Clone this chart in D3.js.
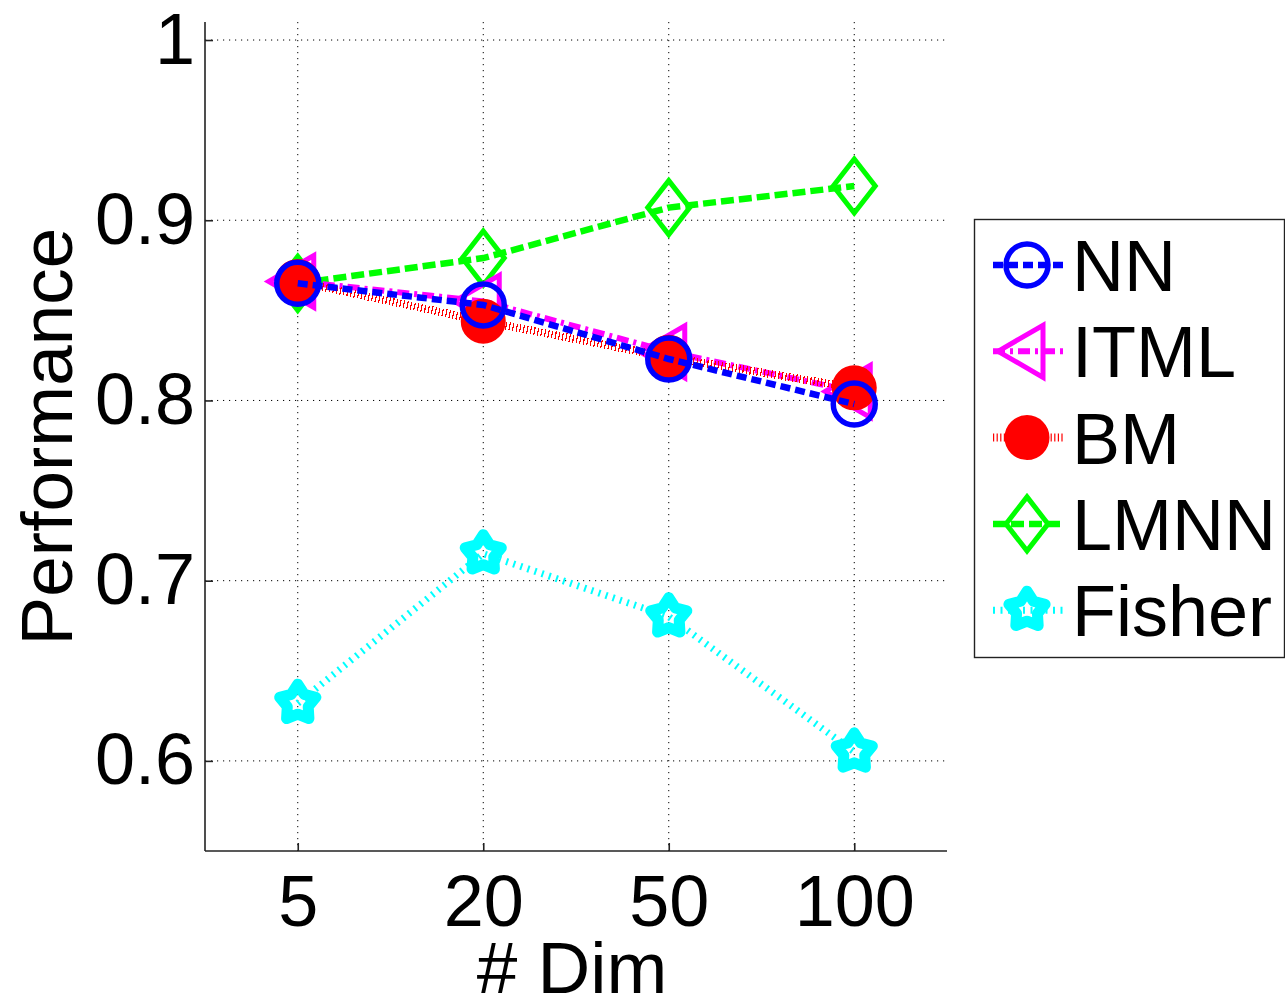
<!DOCTYPE html>
<html>
<head>
<meta charset="utf-8">
<script src="https://cdn.jsdelivr.net/npm/d3@7"></script>
<style>
  html, body { margin: 0; padding: 0; background: #fff; }
  svg { display: block; }
  text { font-family: "Liberation Sans", Arial, Helvetica, sans-serif; fill: #000; }
</style>
</head>
<body>
<script>
// Dimensionality settings on the x axis
const categories = ["5", "20", "50", "100"];

// Performance per method
const nnValues     = [0.865, 0.853, 0.823, 0.798];
const itmlValues   = [0.866, 0.855, 0.827, 0.805];
const bmValues     = [0.866, 0.844, 0.824, 0.807];
const lmnnValues   = [0.865, 0.879, 0.907, 0.919];
const fisherValues = [0.632, 0.715, 0.680, 0.605];

const seriesNames = ["NN", "ITML", "BM", "LMNN", "Fisher"];
const yTickValues = [0.6, 0.7, 0.8, 0.9, 1];
const xLabel = "# Dim";
const yLabel = "Performance";

const series = [
  { name: "NN",     values: nnValues },
  { name: "ITML",   values: itmlValues },
  { name: "BM",     values: bmValues },
  { name: "LMNN",   values: lmnnValues },
  { name: "Fisher", values: fisherValues }
];

// Line and marker appearance per method
const styles = {
  NN:     { color: "#0000ff", dash: "10,5",      width: 6.5, marker: "circle" },
  ITML:   { color: "#ff00ff", dash: "12,5,3,5",  width: 6,   marker: "triangleLeft" },
  BM:     { color: "#ff0000", dash: "1.2,2.4",   width: 8,   marker: "disc" },
  LMNN:   { color: "#00ff00", dash: "13,5",      width: 6.5, marker: "diamond" },
  Fisher: { color: "#00ffff", dash: "2,5.5",     width: 7,   marker: "star" }
};

const W = 1285, H = 998;
const plot = { left: 205, right: 947, top: 22, bottom: 851 };
const TICK_FONT = 72;
const LABEL_FONT = 73;

const svg = d3.select("body").append("svg")
  .attr("width", W).attr("height", H);

const x = d3.scalePoint().domain(categories)
  .range([plot.left, plot.right]).padding(0.5);
const y = d3.scaleLinear().domain([0.55, 1.01])
  .range([plot.bottom, plot.top]);

// Dotted grid
const grid = svg.append("g").attr("class", "grid")
  .attr("stroke", "#000").attr("stroke-width", 1)
  .attr("stroke-dasharray", "1.2,4.8").attr("fill", "none");
grid.selectAll("line.h").data(yTickValues).join("line")
  .attr("class", "h")
  .attr("x1", plot.left).attr("x2", plot.right)
  .attr("y1", d => y(d)).attr("y2", d => y(d));
grid.selectAll("line.v").data(categories).join("line")
  .attr("class", "v")
  .attr("x1", d => x(d)).attr("x2", d => x(d))
  .attr("y1", plot.top).attr("y2", plot.bottom);

// Axes
const yAxis = svg.append("g")
  .attr("transform", `translate(${plot.left},0)`)
  .call(d3.axisLeft(y).tickValues(yTickValues)
    .tickFormat(d3.format("")).tickSize(-8).tickSizeOuter(0).tickPadding(10));
const xAxis = svg.append("g")
  .attr("transform", `translate(0,${plot.bottom})`)
  .call(d3.axisBottom(x).tickSize(-8).tickSizeOuter(0).tickPadding(24));
[xAxis, yAxis].forEach(g => {
  g.select(".domain").attr("stroke", "#222").attr("stroke-width", 1.6);
  g.selectAll(".tick line").attr("stroke", "#222").attr("stroke-width", 1.6);
  g.selectAll(".tick text").attr("font-size", TICK_FONT)
    .attr("font-family", "Liberation Sans, Arial, sans-serif").attr("fill", "#000");
});
// Axis ends span the full plot area
yAxis.select(".domain").attr("d", `M0,${plot.bottom}V${plot.top}`);
xAxis.select(".domain").attr("d", `M${plot.left},0H${plot.right}`);

// Axis titles
svg.append("text")
  .attr("x", (plot.left + plot.right) / 2 - 4).attr("y", 993)
  .attr("text-anchor", "middle").attr("font-size", LABEL_FONT)
  .text(xLabel);
svg.append("text")
  .attr("transform", `translate(72,${(plot.top + plot.bottom) / 2}) rotate(-90)`)
  .attr("text-anchor", "middle").attr("font-size", LABEL_FONT)
  .text(yLabel);

// Marker drawing
function drawMarker(g, kind, color) {
  switch (kind) {
    case "circle":
      g.append("circle").attr("r", 21)
        .attr("fill", "none").attr("stroke", color).attr("stroke-width", 5.5);
      break;
    case "disc":
      g.append("circle").attr("r", 21)
        .attr("fill", color).attr("stroke", color).attr("stroke-width", 3);
      break;
    case "triangleLeft":
      g.append("path").attr("d", "M-29,0L16,-26L16,26Z")
        .attr("fill", "none").attr("stroke", color).attr("stroke-width", 5)
        .attr("stroke-linejoin", "miter");
      break;
    case "diamond":
      g.append("path").attr("d", "M0,-27L21,0L0,27L-21,0Z")
        .attr("fill", "none").attr("stroke", color).attr("stroke-width", 5);
      break;
    case "star": {
      const pts = [];
      for (let i = 0; i < 10; i++) {
        const r = i % 2 === 0 ? 19 : 11;
        const a = -Math.PI / 2 + i * Math.PI / 5;
        pts.push([r * Math.cos(a), r * Math.sin(a)]);
      }
      g.append("path").attr("d", "M" + pts.map(p => p.join(",")).join("L") + "Z")
        .attr("fill", "none").attr("stroke", color).attr("stroke-width", 11)
        .attr("stroke-linejoin", "round");
      break;
    }
  }
}

// Series drawn bottom-to-top: Fisher first, NN last
const drawOrder = ["Fisher", "LMNN", "ITML", "BM", "NN"];
const line = d3.line().x(d => x(d.c)).y(d => y(d.v));
drawOrder.forEach(name => {
  const s = series.find(d => d.name === name);
  const st = styles[name];
  const pts = s.values.map((v, i) => ({ c: categories[i], v }));
  const g = svg.append("g").attr("class", "series");
  g.append("path").datum(pts).attr("d", line)
    .attr("fill", "none").attr("stroke", st.color)
    .attr("stroke-width", st.width).attr("stroke-dasharray", st.dash)
    .attr("shape-rendering", name === "BM" ? "crispEdges" : null);
  pts.forEach(p => {
    const mg = g.append("g").attr("transform", `translate(${x(p.c)},${y(p.v)})`);
    drawMarker(mg, st.marker, st.color);
  });
});

// Legend
const legend = svg.append("g").attr("class", "legend");
legend.append("rect")
  .attr("x", 974.5).attr("y", 219.5).attr("width", 310).attr("height", 438)
  .attr("fill", "#fff").attr("stroke", "#222").attr("stroke-width", 1.4);
seriesNames.forEach((name, i) => {
  const st = styles[name];
  const cy = 265 + i * 86.3;
  const row = legend.append("g").attr("transform", `translate(0,${cy})`);
  row.append("line").attr("x1", 993).attr("x2", 1063).attr("y1", 0).attr("y2", 0)
    .attr("stroke", st.color).attr("stroke-width", st.width)
    .attr("stroke-dasharray", st.dash);
  drawMarker(row.append("g").attr("transform", "translate(1027,0)"), st.marker, st.color);
  row.append("text").attr("x", 1072).attr("y", 0).attr("dy", "0.36em")
    .attr("font-size", TICK_FONT).text(name);
});
</script>
</body>
</html>
